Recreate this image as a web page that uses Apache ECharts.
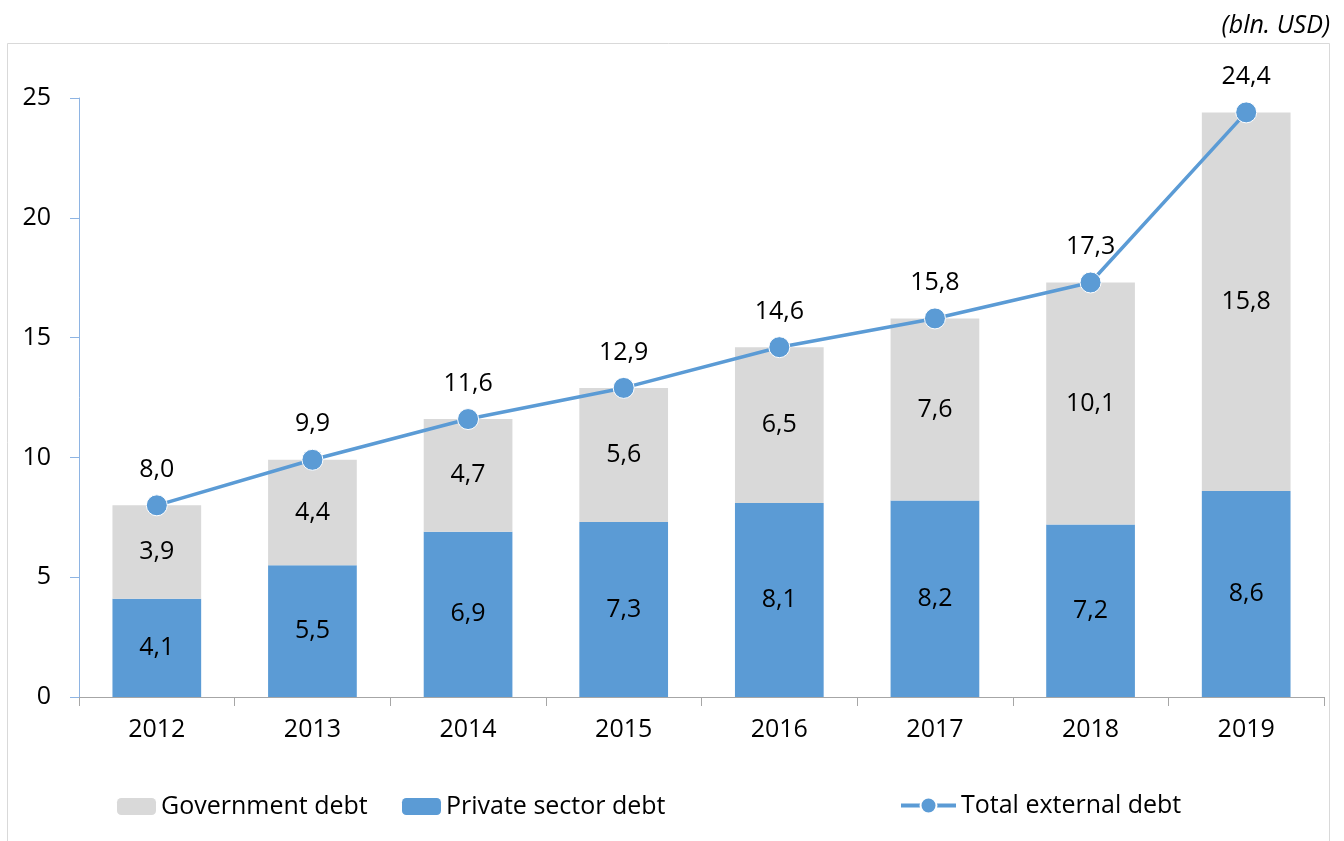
<!DOCTYPE html>
<html>
<head>
<meta charset="utf-8">
<script src="https://cdn.jsdelivr.net/npm/echarts@6/dist/echarts.min.js"></script>
<style>html,body{margin:0;padding:0;background:#fff;}#c{width:1344px;height:841px;}</style>
</head>
<body>
<div id="c"></div>
<script>
const years = ['2012','2013','2014','2015','2016','2017','2018','2019'];
const privateDebt = [4.1, 5.5, 6.9, 7.3, 8.1, 8.2, 7.2, 8.6];
const governmentDebt = [3.9, 4.4, 4.7, 5.6, 6.5, 7.6, 10.1, 15.8];
const totalDebt = [8.0, 9.9, 11.6, 12.9, 14.6, 15.8, 17.3, 24.4];
const unitLabel = '(bln. USD)';

const FONT = '"Open Sans", "Noto Sans", sans-serif';
const FS = 25;
const fmt = p => p.value.toFixed(1).replace('.', ',');
const chart = echarts.init(document.getElementById('c'), null, {renderer: 'canvas'});
const legendText = {fontSize: FS, fontFamily: FONT, color: '#000'};
chart.setOption({
  animation: false,
  backgroundColor: '#fff',
  textStyle: {fontFamily: FONT, color: '#000'},
  graphic: [
    {type: 'rect', shape: {x: 7.5, y: 43.5, width: 1322, height: 810}, style: {fill: 'none', stroke: '#D9D9D9', lineWidth: 1}, z: -1},
    {type: 'text', right: 14, top: 13, style: {text: unitLabel, font: 'italic 25px ' + FONT, fill: '#000'}}
  ],
  grid: {left: 79, right: 20, top: 98, bottom: 144, containLabel: false},
  legend: [
    {data: ['Government debt'], left: 117, top: 794, padding: 0, itemWidth: 39, itemHeight: 17, itemGap: 4, textStyle: legendText},
    {data: ['Private sector debt'], left: 402, top: 794, padding: 0, itemWidth: 39, itemHeight: 17, itemGap: 4, textStyle: legendText},
    {data: ['Total external debt'], left: 899, top: 793, padding: 0, itemWidth: 55, itemHeight: 20, itemGap: 4, textStyle: legendText,
     lineStyle: {width: 4}}
  ],
  xAxis: {
    type: 'category', data: years, boundaryGap: true,
    axisLine: {lineStyle: {color: '#A6A6A6', width: 1}},
    axisTick: {show: true, alignWithLabel: false, length: 9, lineStyle: {color: '#A6A6A6'}},
    axisLabel: {fontSize: FS, fontFamily: FONT, color: '#000', margin: 20}
  },
  yAxis: {
    type: 'value', min: 0, max: 25, interval: 5,
    axisLine: {show: true, lineStyle: {color: '#8EB4E3', width: 1}},
    axisTick: {show: true, length: 9, lineStyle: {color: '#8EB4E3'}},
    splitLine: {show: false},
    axisLabel: {fontSize: FS, fontFamily: FONT, color: '#000', margin: 28}
  },
  series: [
    {name: 'Private sector debt', type: 'bar', stack: 'debt', data: privateDebt, barWidth: '57%',
     itemStyle: {color: '#5B9BD5'},
     label: {show: true, position: 'inside', formatter: fmt, fontSize: FS, fontFamily: FONT, color: '#000'}},
    {name: 'Government debt', type: 'bar', stack: 'debt', data: governmentDebt, barWidth: '57%',
     itemStyle: {color: '#D9D9D9'},
     label: {show: true, position: 'inside', formatter: fmt, fontSize: FS, fontFamily: FONT, color: '#000'}},
    {name: 'Total external debt', type: 'line', data: totalDebt, z: 5,
     symbol: 'circle', symbolSize: 21,
     lineStyle: {color: '#5B9BD5', width: 3.5},
     itemStyle: {color: '#5B9BD5', borderColor: '#fff', borderWidth: 1},
     label: {show: true, position: 'top', distance: 12, formatter: fmt, fontSize: FS, fontFamily: FONT, color: '#000'}}
  ]
});
</script>
</body>
</html>
